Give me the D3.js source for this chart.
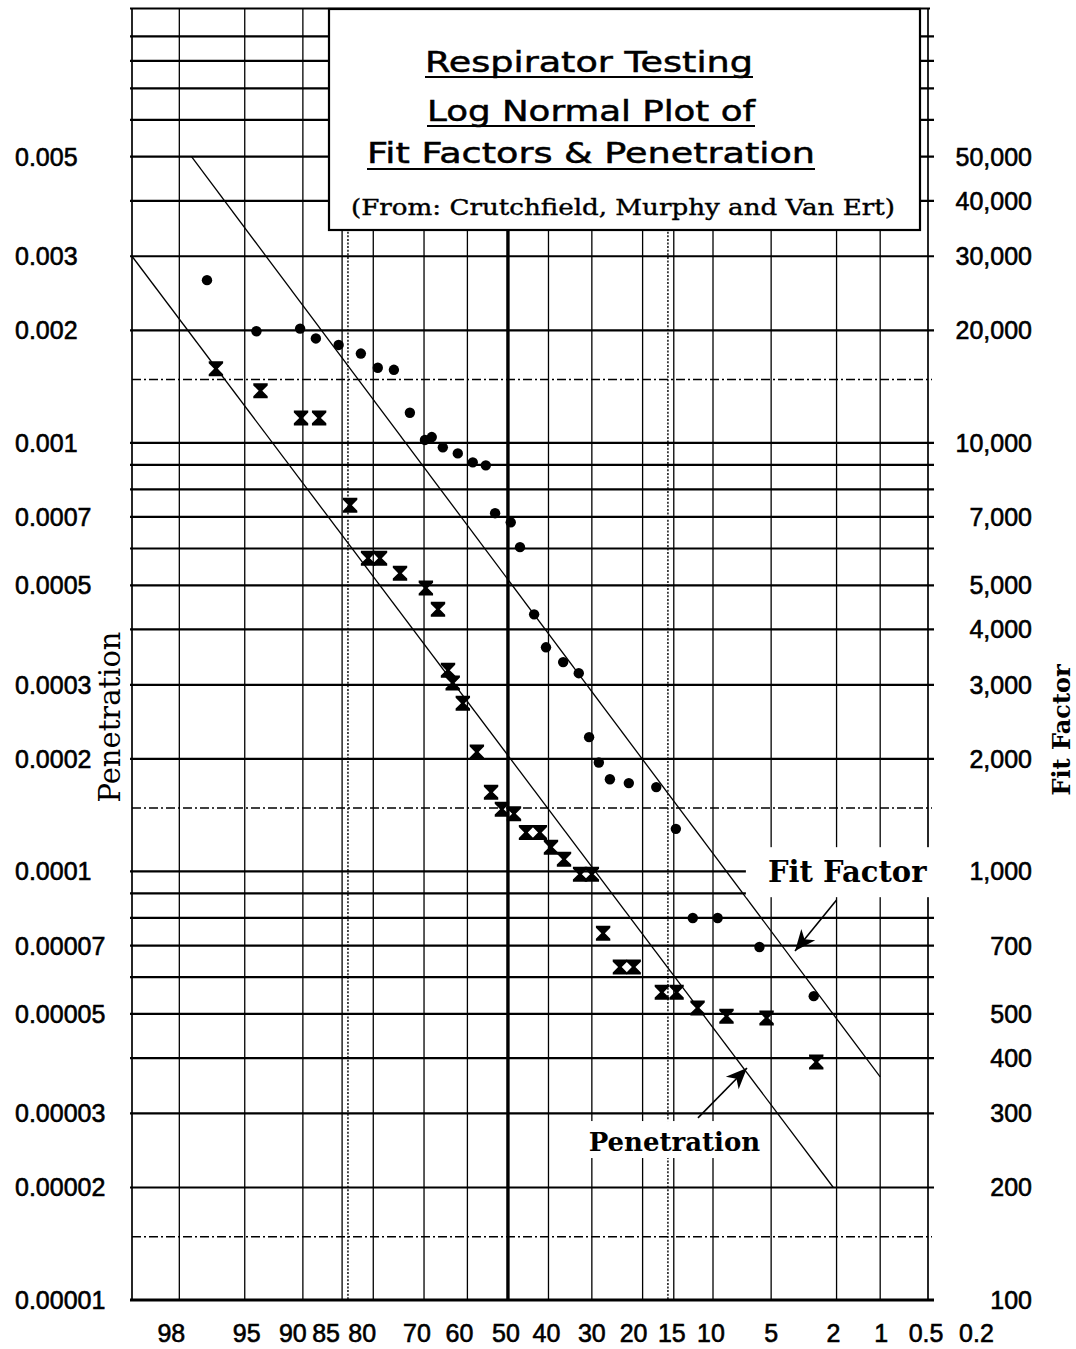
<!DOCTYPE html>
<html>
<head>
<meta charset="utf-8">
<script src="https://cdn.jsdelivr.net/npm/d3@7"></script>
<style>
  html, body { margin: 0; padding: 0; background: #fff; }
  svg { display: block; }
</style>
</head>
<body>
<script>
// ---------- Probability (cumulative percent) axis, high values on the left ----------
const xTickLabels = [98, 95, 90, 85, 80, 70, 60, 50, 40, 30, 20, 15, 10, 5, 2, 1, 0.5, 0.2];
const xGridPct = [98, 95, 90, 85, 80, 70, 60, 50, 40, 30, 20, 15, 10, 5, 2, 1];
const sigmaPct = [84.13, 15.87];           // mean ± one standard deviation
const xDomainPct = [99.06, 0.433];

// ---------- Log axis (penetration on the left, fit factor on the right) ----------
const penTicks = [0.00001, 0.00002, 0.00003, 0.00005, 0.00007, 0.0001, 0.0002, 0.0003,
                  0.0005, 0.0007, 0.001, 0.002, 0.003, 0.005];
const penTickText = ["0.00001", "0.00002", "0.00003", "0.00005", "0.00007", "0.0001", "0.0002",
                     "0.0003", "0.0005", "0.0007", "0.001", "0.002", "0.003", "0.005"];
const fitTicks = [100, 200, 300, 400, 500, 700, 1000, 2000, 3000, 4000, 5000, 7000,
                  10000, 20000, 30000, 40000, 50000];
const gridDecades = [1e-5, 1e-4, 1e-3];
const gridMantissas = [1, 2, 3, 4, 5, 6, 7, 8, 9];
const midMantissa = 1.5;
const yDomain = [1e-5, 0.0104];
const fitPerPen = 1e7;                     // right-hand scale = 1e7 x left-hand scale

// ---------- Fit factor results (filled circles) ----------
const fitPct = [97.0, 94.2, 90.3, 88.5, 85.5, 82.1, 79.2, 76.2, 73.0, 69.8, 68.3, 65.8,
                62.3, 58.7, 55.5, 53.2, 49.3, 47.0, 43.5, 40.6, 36.5, 32.9, 30.6, 28.5,
                26.2, 22.5, 17.7, 14.7, 12.4, 9.5, 5.8, 2.8];
const fitFactor = [26400, 19900, 20200, 19100, 18400, 17500, 16100, 15900, 12200, 10200,
                   10400, 9790, 9510, 9110, 8980, 7130, 6820, 6040, 4320, 3650, 3380, 3190,
                   2260, 1960, 1780, 1740, 1700, 1320, 800, 800, 695, 546];

// ---------- Penetration results (hourglass markers) ----------
const penPct = [96.6, 93.9, 90.2, 88.1, 83.8, 80.9, 78.8, 75.0, 69.6, 66.9, 64.6, 63.5,
                61.1, 57.7, 54.2, 51.5, 48.5, 45.5, 42.1, 39.4, 36.3, 32.6, 30.0, 27.6,
                24.2, 21.6, 16.8, 14.6, 11.8, 8.6, 5.3, 2.7];
const penetration = [0.0016, 0.0014, 0.00118, 0.00118, 0.000741, 0.000572, 0.000572,
                     0.000531, 0.000493, 0.000443, 0.000324, 0.000303, 0.000272, 0.000208,
                     0.000165, 0.000149, 0.000145, 0.000129, 0.000129, 0.0001175, 0.0001086,
                     0.0000987, 0.0000987, 0.0000743, 0.000063, 0.000063, 0.0000557,
                     0.0000557, 0.0000515, 0.0000494, 0.000049, 0.0000392];

// ---------- Fitted log-normal lines: [percent, value] end points ----------
const fitLine = [[97.6, 50000], [1.0, 363]];
const penLine = [[99.06, 0.003], [2.1, 0.00002]];

// ---------- Annotation anchors: [percent, penetration-scale value] ----------
const fitLabelAt = [1.7, 0.000095];
const fitArrow = [[2.0, 0.0000872], [3.64, 0.0000682]];
const penLabelAt = [14.9, 0.0000245];
const penArrow = [[11.75, 0.0000293], [6.76, 0.000038]];

// ---------- Title ----------
const titleLines = ["Respirator Testing", "Log Normal Plot of", "Fit Factors & Penetration"];
const sourceLine = "(From: Crutchfield, Murphy and Van Ert)";

// ===================================================================
const W = 1076, H = 1349;
const plot = { left: 132, right: 928, top: 8.5, bottom: 1300 };

// horizontal nudges (px) that keep the crowded percent labels apart
const xLabelNudge = { 98: -8, 95: 2, 90: -10, 85: -16, 80: -11, 70: -7, 60: -8, 50: -2,
                      40: -2, 20: -9, 15: -2, 10: -2, 2: -3, 1: 1, 0.5: 6, 0.2: 8 };

// Inverse standard normal CDF (Acklam's rational approximation)
function probit(p) {
  const a = [-3.969683028665376e+01, 2.209460984245205e+02, -2.759285104469687e+02,
             1.383577518672690e+02, -3.066479806614716e+01, 2.506628277459239e+00];
  const b = [-5.447609879822406e+01, 1.615858368580409e+02, -1.556989798598866e+02,
             6.680131188771972e+01, -1.328068155288572e+01];
  const c = [-7.784894002430293e-03, -3.223964580411365e-01, -2.400758277161838e+00,
             -2.549671010584303e+00, 4.374664141464968e+00, 2.938163982698783e+00];
  const d = [7.784695709041462e-03, 3.224671290700398e-01, 2.445134137142996e+00,
             3.754408661907416e+00];
  const pl = 0.02425, ph = 1 - pl;
  if (p < pl) {
    const q = Math.sqrt(-2 * Math.log(p));
    return (((((c[0]*q+c[1])*q+c[2])*q+c[3])*q+c[4])*q+c[5]) / ((((d[0]*q+d[1])*q+d[2])*q+d[3])*q+1);
  }
  if (p <= ph) {
    const q = p - 0.5, r = q * q;
    return (((((a[0]*r+a[1])*r+a[2])*r+a[3])*r+a[4])*r+a[5])*q / (((((b[0]*r+b[1])*r+b[2])*r+b[3])*r+b[4])*r+1);
  }
  const q = Math.sqrt(-2 * Math.log(1 - p));
  return -(((((c[0]*q+c[1])*q+c[2])*q+c[3])*q+c[4])*q+c[5]) / ((((d[0]*q+d[1])*q+d[2])*q+d[3])*q+1);
}

// Ruling of the printed log paper: within each decade the lines sit at
// ln((m + 0.5) / 1.5) / ln 7 of the cycle height.
function paperU(v) {
  const k = Math.floor(Math.log10(v));
  const m = v / Math.pow(10, k);
  return k + Math.log((m + 0.5) / 1.5) / Math.log(7);
}

const xScale = d3.scaleLinear()
  .domain(xDomainPct.map(p => probit(p / 100)))
  .range([plot.left, plot.right]);
const yScale = d3.scaleLinear()
  .domain(yDomain.map(paperU))
  .range([plot.bottom, plot.top]);

const px = p => xScale(probit(p / 100));
const py = v => yScale(paperU(v));
const pyFit = f => py(f / fitPerPen);

const svg = d3.select("body").append("svg")
  .attr("width", W).attr("height", H)
  .attr("viewBox", `0 0 ${W} ${H}`);

svg.append("rect").attr("width", W).attr("height", H).attr("fill", "#fff");

// ---------- horizontal rulings ----------
const hLines = gridDecades.flatMap(d => gridMantissas.map(m => m * d));
svg.append("g").attr("class", "h-grid")
  .selectAll("line").data(hLines).join("line")
  .attr("x1", plot.left - 2).attr("x2", plot.right + 6)
  .attr("y1", d => py(d)).attr("y2", d => py(d))
  .attr("stroke", "#000")
  .attr("stroke-width", d => d === gridDecades[0] ? 2.8 : 2.2);

svg.append("g").attr("class", "h-mid")
  .selectAll("line").data(gridDecades.map(d => d * midMantissa)).join("line")
  .attr("x1", plot.left).attr("x2", plot.right + 4)
  .attr("y1", d => py(d)).attr("y2", d => py(d))
  .attr("stroke", "#000").attr("stroke-width", 1.5)
  .attr("stroke-dasharray", "9,3,2,3");

// ---------- vertical rulings ----------
svg.append("g").attr("class", "v-grid")
  .selectAll("line").data(xGridPct).join("line")
  .attr("x1", d => px(d)).attr("x2", d => px(d))
  .attr("y1", plot.top).attr("y2", plot.bottom)
  .attr("stroke", "#000")
  .attr("stroke-width", d => d === 50 ? 3.4 : 1.3);

svg.append("g").attr("class", "v-sigma")
  .selectAll("line").data(sigmaPct).join("line")
  .attr("x1", d => px(d)).attr("x2", d => px(d))
  .attr("y1", plot.top).attr("y2", plot.bottom)
  .attr("stroke", "#000").attr("stroke-width", 1.4)
  .attr("stroke-dasharray", "2,1.6");

// ---------- frame ----------
const frame = svg.append("g").attr("class", "frame")
  .attr("stroke", "#000").attr("fill", "none");
frame.append("line").attr("x1", plot.left).attr("x2", plot.left)
  .attr("y1", plot.top).attr("y2", plot.bottom).attr("stroke-width", 1.7);
frame.append("line").attr("x1", plot.right).attr("x2", plot.right)
  .attr("y1", plot.top).attr("y2", plot.bottom).attr("stroke-width", 1.7);
frame.append("line").attr("x1", plot.left - 2).attr("x2", plot.right + 2)
  .attr("y1", plot.top).attr("y2", plot.top).attr("stroke-width", 2.2);

// ---------- fitted lines ----------
const line = d3.line();
svg.append("path").attr("class", "fit-line")
  .attr("d", line(fitLine.map(d => [px(d[0]), pyFit(d[1])])))
  .attr("fill", "none").attr("stroke", "#000").attr("stroke-width", 1.3);
svg.append("path").attr("class", "pen-line")
  .attr("d", line(penLine.map(d => [px(d[0]), py(d[1])])))
  .attr("fill", "none").attr("stroke", "#000").attr("stroke-width", 1.3);

// ---------- data markers ----------
svg.append("g").attr("class", "fit-points")
  .selectAll("circle").data(d3.zip(fitPct, fitFactor)).join("circle")
  .attr("cx", d => px(d[0])).attr("cy", d => pyFit(d[1]))
  .attr("r", 5.2).attr("fill", "#000");

const hourglass = "M-7.2,-7.5H7.2V-5.4L1.8,0L7.2,5.4V7.5H-7.2V5.4L-1.8,0L-7.2,-5.4Z";
svg.append("g").attr("class", "pen-points")
  .selectAll("path").data(d3.zip(penPct, penetration)).join("path")
  .attr("d", hourglass)
  .attr("transform", d => `translate(${px(d[0])},${py(d[1])})`)
  .attr("fill", "#000");

// ---------- title box ----------
const box = { x: 329, y: 9, w: 591, h: 221 };
svg.append("rect")
  .attr("x", box.x).attr("y", box.y).attr("width", box.w).attr("height", box.h)
  .attr("fill", "#fff").attr("stroke", "#000").attr("stroke-width", 2.2);

const titleSpecs = [
  { cx: 589, base: 72, width: 328, ul: 77 },
  { cx: 591, base: 121, width: 328, ul: 126 },
  { cx: 591, base: 163, width: 448, ul: 169 }
];
const tg = svg.append("g").attr("class", "title");
titleLines.forEach((t, i) => {
  const s = titleSpecs[i];
  tg.append("text")
    .attr("x", s.cx).attr("y", s.base)
    .attr("text-anchor", "middle")
    .attr("font-family", "'DejaVu Sans', sans-serif")
    .attr("font-size", 29)
    .attr("stroke", "#000").attr("stroke-width", 0.5)
    .attr("textLength", s.width).attr("lengthAdjust", "spacingAndGlyphs")
    .text(t);
  tg.append("line")
    .attr("x1", s.cx - s.width / 2).attr("x2", s.cx + s.width / 2)
    .attr("y1", s.ul).attr("y2", s.ul)
    .attr("stroke", "#000").attr("stroke-width", 2.2);
});
tg.append("text")
  .attr("x", 623).attr("y", 215)
  .attr("text-anchor", "middle")
  .attr("font-family", "'DejaVu Serif', serif")
  .attr("font-size", 23)
  .attr("stroke", "#000").attr("stroke-width", 0.4)
  .attr("textLength", 544).attr("lengthAdjust", "spacingAndGlyphs")
  .text(sourceLine);

// ---------- tick labels ----------
const tickFont = "'Liberation Sans', Arial, sans-serif";
function tickStyle(sel) {
  sel.attr("font-family", tickFont).attr("font-size", 25)
     .attr("stroke", "#000").attr("stroke-width", 0.6);
}
svg.append("g").attr("class", "pen-ticks")
  .selectAll("text").data(penTicks).join("text")
  .attr("x", 15).attr("y", d => py(d) + 9)
  .call(tickStyle)
  .text((d, i) => penTickText[i]);

const fmtComma = d3.format(",");
svg.append("g").attr("class", "fit-ticks")
  .selectAll("text").data(fitTicks).join("text")
  .attr("x", 1032).attr("y", d => pyFit(d) + 9)
  .attr("text-anchor", "end")
  .call(tickStyle)
  .text(d => fmtComma(d));

svg.append("g").attr("class", "x-ticks")
  .selectAll("text").data(xTickLabels).join("text")
  .attr("x", d => px(d) + (xLabelNudge[d] || 0)).attr("y", 1342)
  .attr("text-anchor", "middle")
  .call(tickStyle)
  .text(d => d);

// ---------- axis titles ----------
svg.append("text")
  .attr("transform", "translate(120,717) rotate(-90)")
  .attr("text-anchor", "middle")
  .attr("font-family", "'DejaVu Serif', serif").attr("font-size", 29)
  .text("Penetration");
svg.append("text")
  .attr("transform", "translate(1070,730) rotate(-90)")
  .attr("text-anchor", "middle")
  .attr("font-family", "'DejaVu Serif', serif").attr("font-size", 24)
  .attr("font-weight", "bold")
  .text("Fit Factor");

// ---------- annotations ----------
function label(text, at, size, pad) {
  const g = svg.append("g");
  const bg = g.append("rect").attr("fill", "#fff");
  const t = g.append("text")
    .attr("x", px(at[0])).attr("y", py(at[1]))
    .attr("text-anchor", "middle")
    .attr("font-family", "'DejaVu Serif', serif")
    .attr("font-weight", "bold").attr("font-size", size)
    .text(text);
  const bb = t.node().getBBox();
  bg.attr("x", bb.x - pad[0]).attr("y", bb.y - pad[2])
    .attr("width", bb.width + pad[0] + pad[1])
    .attr("height", bb.height + pad[2] + pad[3]);
}
label("Fit Factor", fitLabelAt, 29, [22, 10, 8, 8]);
label("Penetration", penLabelAt, 26, [5, 3, 6, 1]);

svg.append("defs").append("marker")
  .attr("id", "head").attr("markerUnits", "userSpaceOnUse")
  .attr("viewBox", "-22 -11 24 22").attr("refX", 0).attr("refY", 0)
  .attr("markerWidth", 24).attr("markerHeight", 22).attr("orient", "auto")
  .append("path").attr("d", "M0,0L-21,-9L-15,0L-21,9Z").attr("fill", "#000");

[fitArrow, penArrow].forEach(a => {
  svg.append("path")
    .attr("d", line(a.map(d => [px(d[0]), py(d[1])])))
    .attr("fill", "none").attr("stroke", "#000").attr("stroke-width", 1.6)
    .attr("marker-end", "url(#head)");
});
</script>
</body>
</html>
